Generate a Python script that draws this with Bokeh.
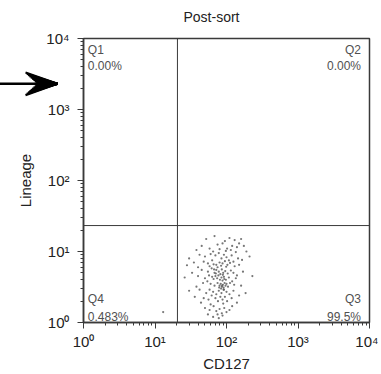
from bokeh.plotting import figure
from bokeh.models import Span, Label, Arrow, VeeHead, ColumnDataSource, Range1d, LogTicker, Title
from bokeh.embed import file_html
from bokeh.resources import INLINE

# ---- data ----
cd127 = [52, 68, 95, 110, 130, 150, 160, 45, 58, 75, 88, 102, 120, 140, 175, 38, 65, 80, 98, 115, 135, 190,
         30, 42, 50, 60, 70, 78, 85, 92, 100, 108, 118, 125, 145, 165, 210, 35, 48, 55, 63, 72, 80, 88, 95, 103, 112, 130,
         58, 66, 75, 84, 99, 150, 40, 28,
         45, 55, 62, 68, 72, 78, 82, 86, 90, 96, 104, 115, 125, 140, 170, 230, 33, 40, 50, 57, 63, 66, 70, 74, 77, 81,
         85, 88, 92, 98, 108, 120, 135, 26, 47, 54, 60, 75, 80, 83, 86, 89, 91, 94, 97, 100, 105, 112, 128, 160, 38, 68,
         30, 42, 52, 58, 65, 72, 78, 85, 92, 100, 110, 125, 150, 185, 36, 48, 56, 62, 70, 76, 82, 88, 95, 102, 118, 140,
         44, 60, 90,
         50, 58, 66, 72, 75, 80, 86, 93, 100, 110, 65, 78, 88, 55, 120,
         84, 87, 91, 79, 93, 89, 71, 67,
         13]
lineage = [15, 16.5, 14, 15.5, 14.5, 13, 15, 12, 11, 12.5, 13, 11, 12, 11.5, 12, 10.5, 10, 10.8, 10.2, 10.5, 9.8, 10,
           8, 9, 8.5, 9.2, 8.8, 9.5, 8, 9, 8.3, 7.5, 8.8, 7.2, 8, 7.6, 8.5, 7, 7.2, 6.8, 7.5, 6.5, 7, 6.8, 7.3, 6.5, 6.9, 6.2,
           6.2, 6.6, 6, 6.3, 6.1, 6.5, 6, 6.4,
           5.5, 5.2, 5.8, 5, 5.5, 5.2, 4.8, 5.6, 5, 5.3, 4.9, 5.4, 5, 4.6, 5.2, 4.5, 5, 4.5, 4.2, 4.6, 4.4, 4.1, 4.5, 4.2, 4.6, 4,
           4.3, 3.9, 4.4, 4, 4.3, 3.8, 4.2, 4.3, 3.6, 3.8, 3.5, 3.6, 3.3, 3.5, 3.2, 3.4, 3.1, 3.6, 3.3, 3.5, 3.2, 3.6, 3.4, 3.3, 3.2, 3.3,
           2.8, 2.9, 2.6, 2.9, 2.7, 2.5, 2.8, 2.6, 2.9, 2.7, 2.5, 2.8, 2.4, 2.6, 2.3, 2.2, 2.1, 2.4, 2.2, 2, 2.3, 2.1, 2.3, 2, 2.2, 1.9,
           1.9, 1.8, 1.85,
           1.6, 1.5, 1.7, 1.45, 1.3, 1.55, 1.35, 1.6, 1.4, 1.5, 1.2, 1.15, 1.25, 1.3, 1.7,
           3.0, 3.3, 2.9, 3.1, 4.1, 4.7, 4.9, 5.6,
           1.4]
x_gate = 20.6
y_gate = 23.2
tick_values = [1, 10, 100, 1000, 10000]
tick_labels = ["10\u2070", "10\u00b9", "10\u00b2", "10\u00b3", "10\u2074"]
quadrants = ["Q1", "Q2", "Q3", "Q4"]
quad_pcts = ["0.00%", "0.00%", "99.5%", "0.483%"]

FONT = "Liberation Sans"
DARK = "#3a3a3a"

p = figure(width=378, height=374, x_axis_type="log", y_axis_type="log",
           x_range=Range1d(1, 10000), y_range=Range1d(1, 10000),
           output_backend="svg", toolbar_location=None,
           min_border_left=83, min_border_right=9, min_border_top=38, min_border_bottom=51)
# spacer title (closest to frame) then the real title above it
p.add_layout(Title(text=" ", text_font_size="7px", standoff=0), "above")
p.add_layout(Title(text="Post-sort", align="left", offset=100, text_font=FONT, text_font_size="14px",
                   text_font_style="normal", text_color="#222222"), "above")

p.xgrid.visible = False
p.ygrid.visible = False
p.outline_line_color = DARK
p.outline_line_width = 1.5

for ax, lab in ((p.xaxis[0], "CD127"), (p.yaxis[0], "Lineage")):
    ax.ticker = LogTicker(desired_num_ticks=5, num_minor_ticks=10)
    ax.ticker.base = 10
    ax.major_label_overrides = {v: t for v, t in zip(tick_values, tick_labels)}
    ax.axis_label = lab
    ax.axis_label_text_font = FONT
    ax.axis_label_text_font_size = "15px"
    ax.axis_label_text_font_style = "normal"
    ax.axis_label_text_color = "#222222"
    ax.major_label_text_font = FONT
    ax.major_label_text_font_size = "15px"
    ax.major_label_text_color = "#222222"
    ax.axis_line_color = DARK
    ax.axis_line_width = 1.5
    ax.major_tick_line_color = DARK
    ax.minor_tick_line_color = DARK
    ax.major_tick_out = 6
    ax.major_tick_in = 0
    ax.minor_tick_out = 3
    ax.minor_tick_in = 0
p.xaxis.major_label_standoff = 4
p.yaxis.major_label_standoff = 8
p.yaxis.axis_label_standoff = 9
p.xaxis.axis_label_standoff = 2

src = ColumnDataSource(dict(x=cd127, y=lineage))
p.scatter("x", "y", source=src, size=2.2, marker="circle", fill_color="#555555",
          line_color=None, fill_alpha=0.8)

p.add_layout(Span(location=x_gate, dimension="height", line_color=DARK, line_width=1))
p.add_layout(Span(location=y_gate, dimension="width", line_color=DARK, line_width=1))

lab_kw = dict(text_font=FONT, text_font_size="12px", text_color="#505050", text_baseline="top")
p.add_layout(Label(x=1.15, y=8700, text=quadrants[0], text_align="left", **lab_kw))
p.add_layout(Label(x=1.15, y=5200, text=quad_pcts[0], text_align="left", **lab_kw))
p.add_layout(Label(x=7600, y=8700, text=quadrants[1], text_align="right", **lab_kw))
p.add_layout(Label(x=7600, y=5200, text=quad_pcts[1], text_align="right", **lab_kw))
p.add_layout(Label(x=7600, y=2.72, text=quadrants[2], text_align="right", **lab_kw))
p.add_layout(Label(x=7600, y=1.52, text=quad_pcts[2], text_align="right", **lab_kw))
p.add_layout(Label(x=1.15, y=2.72, text=quadrants[3], text_align="left", **lab_kw))
p.add_layout(Label(x=1.15, y=1.52, text=quad_pcts[3], text_align="left", **lab_kw))

# ---- pointer arrow in the left margin (decoration, canvas pixels) ----
def seg(x0, y0, x1, y1, w):
    p.add_layout(Arrow(x_start=x0, y_start=y0, x_end=x1, y_end=y1,
                       start_units="canvas", end_units="canvas",
                       line_color="black", line_width=w, line_cap="butt",
                       end=VeeHead(size=140, fill_alpha=0, line_alpha=0)))

tip_x, tip_y = 57, 83.3
seg(-5, tip_y, 40, tip_y, 2.6)          # shaft
n = 9
for i in range(n + 1):
    t = i / n
    seg(25 + 12 * t, 72 + 11.3 * t, tip_x, tip_y, 2.2)   # upper half of head
    seg(25 + 12 * t, 94.6 - 11.3 * t, tip_x, tip_y, 2.2)  # lower half of head

open("out.html", "w").write(file_html(p, INLINE))
